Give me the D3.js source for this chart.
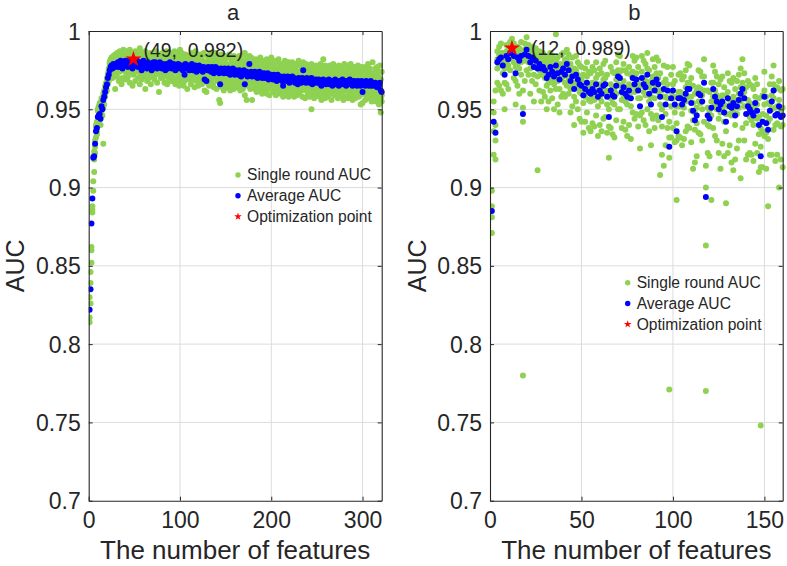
<!DOCTYPE html>
<html><head><meta charset="utf-8">
<script src="https://cdn.jsdelivr.net/npm/d3@7"></script>
<style>body{margin:0;background:#fff}svg{display:block}text{font-family:"Liberation Sans",Arial,Helvetica,sans-serif;fill:#262626}</style>
</head><body>
<script>
// ---------- DATA ----------
const yTicks = [0.7, 0.75, 0.8, 0.85, 0.9, 0.95, 1];
const yTickLabels = ["0.7", "0.75", "0.8", "0.85", "0.9", "0.95", "1"];
const aXTicks = [0, 100, 200, 300];
const bXTicks = [0, 50, 100, 150];
const panelTitles = ["a", "b"];
const xLabel = "The number of features";
const yLabel = "AUC";
const legendLabels = ["Single round AUC", "Average AUC", "Optimization point"];
const aOpt = {x: 49, y: 0.982, label: "(49,  0.982)"};
const bOpt = {x: 12, y: 0.989, label: "(12,  0.989)"};

// Panel a: average AUC per number of features (1..321)
const aAvg = [
.822,.835,.877,.893,.919,.920,.928,.936,.938,.945,
.946,.947,.944,.952,.950,.956,.958,.961,.964,.966,
.970,.972,.975,.977,.978,.976,.979,.978,.977,.979,
.978,.980,.977,.979,.981,.978,.976,.980,.979,.981,
.978,.980,.977,.981,.979,.978,.980,.976,.982,.979,
.980,.978,.981,.977,.979,.980,.978,.975,.979,.981,
.977,.979,.978,.976,.980,.978,.979,.977,.975,.978,
.980,.977,.980,.978,.976,.979,.977,.980,.978,.976,
.979,.977,.978,.975,.979,.977,.976,.978,.980,.977,
.976,.978,.979,.977,.975,.978,.976,.979,.977,.978,
.976,.978,.975,.977,.972,.979,.976,.977,.978,.975,
.977,.976,.979,.975,.977,.976,.978,.974,.977,.976,
.978,.975,.977,.976,.974,.977,.969,.976,.968,.975,
.977,.975,.976,.974,.977,.976,.973,.975,.977,.974,
.976,.975,.973,.966,.976,.974,.975,.973,.976,.974,
.975,.973,.976,.974,.972,.975,.973,.976,.974,.972,
.975,.973,.974,.972,.975,.973,.971,.974,.972,.975,
.966,.973,.974,.971,.973,.979,.972,.974,.971,.973,
.972,.974,.971,.973,.970,.972,.974,.971,.973,.970,
.972,.973,.970,.972,.971,.973,.969,.972,.970,.972,
.971,.969,.972,.970,.971,.968,.972,.970,.969,.971,
.970,.968,.965,.971,.969,.970,.968,.971,.969,.967,
.970,.969,.971,.968,.970,.967,.969,.968,.966,.970,
.968,.969,.967,.970,.975,.968,.969,.967,.970,.968,
.969,.967,.968,.970,.966,.969,.968,.967,.969,.968,
.967,.969,.968,.966,.965,.968,.969,.967,.968,.966,
.968,.967,.969,.966,.968,.967,.965,.968,.967,.969,
.966,.968,.967,.965,.968,.966,.967,.969,.966,.968,
.967,.965,.968,.966,.967,.969,.966,.968,.965,.967,
.968,.966,.967,.965,.968,.966,.967,.965,.968,.961,
.966,.967,.965,.968,.966,.967,.965,.966,.968,.965,
.967,.966,.965,.967,.966,.964,.966,.965,.967,.962,.961];

// Panel a: single-round AUCs (three rounds)
const aRound1 = [
.814,.839,.862,.886,.904,.923,.930,.940,.942,.950,
.952,.954,.949,.957,.955,.928,.962,.963,.967,.969,
.972,.976,.979,.982,.983,.983,.984,.982,.985,.983,
.986,.982,.984,.987,.983,.980,.985,.988,.981,.984,
.983,.987,.979,.985,.988,.981,.984,.979,.986,.983,
.987,.981,.985,.979,.984,.989,.982,.978,.986,.983,
.982,.987,.980,.984,.985,.979,.986,.981,.978,.985,
.983,.986,.981,.987,.980,.984,.978,.985,.982,.979,
.986,.980,.983,.979,.987,.981,.984,.978,.986,.982,
.980,.985,.982,.987,.979,.983,.978,.986,.981,.988,
.979,.986,.980,.983,.978,.985,.981,.976,.984,.979,
.984,.979,.986,.980,.982,.978,.987,.979,.983,.981,
.982,.985,.979,.984,.978,.986,.975,.980,.977,.984,
.980,.983,.986,.978,.982,.985,.979,.983,.986,.980,
.984,.978,.982,.974,.985,.979,.983,.977,.981,.984,
.979,.983,.978,.985,.977,.982,.980,.976,.984,.979,
.983,.977,.981,.979,.984,.976,.982,.978,.980,.985,
.986,.978,.982,.976,.980,.984,.977,.983,.975,.981,
.979,.976,.982,.978,.975,.981,.977,.983,.976,.980,
.976,.981,.978,.975,.982,.977,.980,.974,.979,.983,
.978,.975,.981,.977,.974,.980,.976,.982,.975,.979,
.975,.979,.972,.977,.981,.974,.978,.976,.980,.973,
.977,.974,.980,.976,.973,.979,.975,.978,.972,.981,
.974,.978,.975,.972,.980,.977,.973,.979,.976,.974,
.978,.972,.976,.979,.973,.975,.977,.971,.978,.974,
.972,.977,.974,.979,.971,.976,.982,.973,.978,.975,
.977,.972,.975,.978,.973,.976,.971,.979,.974,.977,
.973,.976,.971,.978,.974,.970,.977,.975,.972,.979,
.975,.971,.978,.973,.976,.972,.979,.974,.970,.977,
.972,.977,.974,.970,.978,.973,.975,.971,.977,.968,
.974,.970,.977,.972,.975,.979,.971,.976,.973,.970,
.980,.973,.970,.976,.972,.977,.971,.974,.978,.969,.974];
const aRound2 = [
.817,.826,.852,.884,.898,.910,.922,.932,.936,.940,
.941,.943,.940,.947,.946,.951,.953,.958,.961,.962,
.966,.968,.970,.972,.975,.970,.972,.971,.963,.974,
.971,.976,.968,.974,.977,.966,.970,.975,.969,.978,
.973,.969,.971,.977,.967,.974,.976,.965,.972,.975,
.968,.974,.977,.970,.975,.966,.972,.969,.976,.971,
.972,.963,.975,.968,.976,.970,.973,.966,.971,.974,
.975,.969,.972,.976,.967,.973,.961,.977,.970,.972,
.970,.974,.967,.971,.975,.966,.972,.969,.976,.968,
.972,.968,.975,.970,.966,.974,.969,.973,.965,.971,
.967,.973,.970,.965,.968,.975,.971,.963,.972,.969,
.971,.966,.974,.969,.972,.964,.973,.968,.970,.965,
.972,.968,.971,.966,.970,.973,.962,.969,.961,.967,
.970,.965,.972,.968,.971,.966,.964,.970,.972,.963,
.968,.971,.956,.954,.970,.964,.969,.962,.971,.966,
.969,.964,.970,.967,.962,.971,.965,.968,.963,.966,
.966,.969,.964,.967,.970,.962,.966,.968,.963,.969,
.959,.967,.956,.965,.968,.972,.963,.969,.956,.966,
.967,.963,.966,.961,.965,.968,.962,.966,.969,.960,
.964,.968,.962,.966,.960,.967,.963,.959,.966,.968,
.966,.961,.964,.967,.959,.963,.968,.962,.965,.960,
.963,.965,.958,.962,.966,.960,.964,.967,.958,.962,
.965,.960,.963,.966,.958,.962,.965,.959,.963,.966,
.960,.964,.962,.958,.968,.963,.957,.962,.965,.959,
.963,.958,.962,.950,.960,.964,.957,.961,.965,.959,
.961,.964,.958,.962,.956,.963,.960,.964,.957,.961,
.963,.958,.962,.960,.964,.956,.961,.963,.959,.965,
.960,.963,.957,.961,.964,.958,.962,.960,.956,.963,
.962,.958,.963,.957,.961,.964,.959,.962,.956,.960,
.963,.957,.961,.959,.964,.958,.962,.953,.960,.954,
.960,.963,.956,.962,.958,.961,.957,.963,.959,.955,
.961,.957,.960,.963,.955,.958,.961,.953,.959,.948,.955];
const aRound3 = [
.830,.846,.860,.888,.920,.918,.926,.938,.934,.949,
.948,.950,.947,.955,.953,.960,.961,.965,.966,.970,
.973,.975,.980,.981,.979,.979,.976,.984,.980,.975,
.981,.977,.980,.985,.978,.975,.983,.977,.986,.979,
.980,.986,.975,.979,.984,.977,.981,.985,.978,.983,
.985,.976,.980,.984,.978,.982,.986,.979,.976,.983,
.979,.982,.976,.985,.978,.981,.975,.984,.979,.977,
.981,.985,.977,.980,.984,.976,.982,.979,.985,.978,
.978,.984,.975,.980,.977,.985,.979,.976,.983,.980,
.980,.975,.983,.979,.977,.982,.984,.976,.981,.978,
.979,.976,.983,.973,.977,.981,.974,.984,.975,.980,
.975,.981,.977,.984,.972,.979,.976,.982,.974,.980,
.976,.983,.974,.979,.981,.975,.970,.980,.972,.977,
.974,.979,.982,.971,.976,.980,.975,.972,.979,.977,
.979,.972,.976,.968,.973,.978,.971,.977,.974,.976,
.972,.977,.974,.970,.976,.973,.978,.971,.975,.969,
.977,.970,.976,.974,.972,.978,.969,.975,.973,.971,
.970,.975,.971,.968,.976,.974,.969,.972,.975,.970,
.975,.970,.973,.968,.974,.971,.969,.976,.970,.972,
.969,.975,.972,.967,.974,.970,.973,.968,.975,.971,
.973,.967,.970,.974,.968,.972,.969,.966,.973,.970,
.967,.972,.969,.966,.973,.968,.971,.965,.972,.969,
.972,.966,.969,.973,.967,.971,.965,.970,.968,.974,
.966,.971,.968,.965,.972,.969,.966,.971,.967,.970,
.967,.970,.965,.968,.971,.966,.969,.964,.972,.967,
.969,.965,.971,.968,.963,.970,.966,.972,.964,.969,
.965,.970,.966,.969,.963,.971,.967,.964,.970,.966,
.969,.964,.971,.967,.965,.970,.963,.968,.971,.965,
.964,.969,.966,.971,.963,.967,.970,.965,.968,.972,
.966,.970,.964,.968,.971,.963,.969,.967,.965,.966,
.969,.964,.970,.966,.963,.971,.967,.962,.969,.968,
.964,.969,.966,.962,.970,.967,.963,.968,.965,.957,.959];

// Panel b: average AUC per number of features (1..160)
const bAvg = [
.885,.942,.935,.980,.982,.983,.978,.972,.984,.982,
.986,.989,.984,.973,.983,.981,.984,.947,.985,.988,
.984,.980,.983,.977,.981,.976,.979,.976,.977,.975,
.970,.972,.977,.974,.971,.978,.973,.969,.974,.976,
.972,.979,.975,.968,.971,.963,.972,.969,.966,.965,
.959,.963,.967,.961,.960,.963,.961,.966,.958,.962,
.960,.965,.966,.958,.945,.962,.959,.958,.965,.971,
.970,.961,.964,.960,.958,.962,.957,.970,.966,.969,
.962,.952,.970,.966,.964,.972,.960,.953,.967,.962,
.969,.966,.958,.945,.963,.953,.962,.926,.957,.962,
.953,.936,.957,.957,.953,.956,.960,.963,.963,.954,
.949,.943,.946,.960,.959,.955,.967,.894,.946,.944,
.951,.963,.958,.955,.950,.953,.955,.948,.942,.957,
.952,.951,.954,.946,.952,.956,.960,.963,.957,.947,
.952,.950,.948,.946,.954,.949,.940,.920,.942,.958,
.941,.937,.949,.955,.962,.946,.947,.952,.945,.946];

// Panel b: single-round AUCs (four rounds)
const bRound1 = [
.898,.955,.962,.987,.990,.992,.986,.985,.991,.990,
.993,.995,.992,.986,.990,.989,.993,.962,.992,.996,
.991,.988,.990,.986,.989,.985,.987,.984,.986,.983,
.980,.983,.986,.984,.982,.998,.983,.979,.985,.986,
.982,.988,.985,.979,.983,.976,.984,.980,.978,.977,
.972,.976,.980,.974,.973,.977,.975,.980,.972,.976,
.973,.979,.981,.972,.960,.977,.974,.973,.980,.985,
.984,.975,.979,.975,.973,.977,.972,.984,.981,.983,
.977,.966,.984,.981,.979,.986,.975,.968,.982,.977,
.983,.981,.973,.962,.978,.969,.977,.942,.972,.977,
.968,.952,.972,.973,.969,.971,.975,.979,.978,.970,
.965,.960,.962,.975,.974,.971,.982,.914,.962,.961,
.967,.978,.974,.971,.966,.969,.971,.964,.959,.973,
.968,.967,.970,.963,.968,.972,.976,.982,.973,.964,
.968,.966,.965,.963,.970,.966,.957,.938,.959,.974,
.958,.954,.966,.971,.978,.963,.964,.968,.962,.963];
const bRound2 = [
.888,.948,.940,.982,.985,.986,.981,.976,.987,.985,
.988,.991,.987,.977,.986,.984,.987,.951,.988,.991,
.987,.983,.986,.980,.984,.979,.982,.979,.980,.978,
.974,.976,.980,.977,.975,.981,.976,.972,.977,.979,
.975,.982,.978,.971,.974,.967,.975,.972,.970,.969,
.963,.967,.971,.965,.964,.967,.965,.970,.962,.966,
.964,.969,.970,.962,.950,.966,.963,.962,.969,.975,
.974,.965,.968,.964,.962,.966,.961,.974,.970,.973,
.966,.957,.974,.970,.968,.976,.964,.958,.971,.966,
.973,.970,.962,.950,.967,.958,.966,.932,.961,.966,
.958,.941,.961,.961,.958,.960,.964,.967,.967,.958,
.954,.948,.951,.964,.963,.959,.971,.900,.951,.949,
.955,.967,.962,.959,.955,.957,.959,.953,.947,.961,
.956,.955,.958,.951,.956,.960,.964,.967,.961,.952,
.956,.954,.953,.951,.958,.953,.945,.926,.947,.962,
.946,.942,.953,.959,.966,.951,.952,.956,.950,.951];
const bRound3 = [
.881,.936,.930,.976,.978,.979,.973,.967,.980,.978,
.983,.986,.980,.968,.978,.976,.980,.942,.981,.985,
.980,.976,.979,.972,.977,.971,.975,.972,.973,.970,
.965,.967,.972,.969,.966,.974,.968,.963,.969,.971,
.967,.975,.970,.963,.966,.958,.967,.964,.961,.960,
.954,.958,.962,.956,.955,.958,.956,.961,.952,.957,
.955,.960,.961,.953,.939,.957,.954,.953,.960,.966,
.965,.956,.959,.955,.953,.957,.952,.965,.961,.964,
.957,.946,.965,.961,.959,.967,.955,.947,.962,.957,
.964,.961,.953,.939,.958,.947,.957,.919,.952,.957,
.948,.930,.952,.952,.947,.951,.955,.958,.958,.949,
.943,.937,.941,.955,.954,.950,.962,.770,.940,.939,
.946,.958,.953,.950,.944,.948,.950,.942,.936,.952,
.947,.946,.949,.940,.947,.951,.955,.958,.952,.941,
.947,.945,.943,.940,.949,.944,.934,.913,.936,.953,
.935,.931,.944,.950,.957,.940,.941,.947,.939,.940];
const bRound4 = [
.871,.921,.918,.967,.965,.962,.960,.950,.966,.963,
.975,.983,.970,.953,.965,.960,.972,.780,.968,.975,
.972,.960,.968,.955,.966,.911,.962,.955,.961,.958,
.950,.955,.962,.957,.950,.963,.953,.948,.958,.960,
.958,.965,.960,.948,.952,.940,.955,.950,.944,.942,
.935,.942,.948,.938,.936,.941,.939,.946,.933,.940,
.936,.944,.945,.935,.919,.938,.934,.932,.943,.950,
.950,.938,.942,.937,.933,.940,.931,.948,.944,.947,
.939,.925,.948,.943,.940,.950,.936,.927,.944,.938,
.946,.943,.908,.921,.914,.927,.938,.771,.932,.938,
.929,.892,.933,.932,.927,.931,.936,.939,.938,.929,
.912,.916,.920,.935,.934,.930,.942,.863,.922,.920,
.892,.938,.933,.930,.922,.912,.928,.920,.890,.922,
.927,.916,.911,.918,.925,.930,.906,.938,.930,.918,
.921,.922,.921,.917,.928,.922,.910,.748,.913,.933,
.912,.888,.921,.921,.937,.917,.921,.900,.918,.913];

// ---------- STYLE / LAYOUT ----------
const GREEN = "#8fd150", BLUE = "#0000ff", RED = "#ff0000";
const AXIS = "#262626", GRID = "#dcdcdc";
const W = 787, H = 566;
const panels = [
  {title: panelTitles[0], left: 88.7, right: 381.7, xMax: 321, xTicks: aXTicks,
   avg: aAvg, rounds: [aRound1, aRound2, aRound3], opt: aOpt,
   legX: 238, legY: 175, labelDx: 10, labelDy: -9},
  {title: panelTitles[1], left: 490, right: 782.7, xMax: 160, xTicks: bXTicks,
   avg: bAvg, rounds: [bRound1, bRound2, bRound3, bRound4], opt: bOpt,
   legX: 627.7, legY: 282.7, labelDx: 19, labelDy: 0}
];
const plotTop = 31, plotBottom = 500.7;

const svg = d3.select("body").append("svg").attr("width", W).attr("height", H);

panels.forEach(p => {
  const x = d3.scaleLinear().domain([0, p.xMax]).range([p.left, p.right]);
  const y = d3.scaleLinear().domain([0.7, 1]).range([plotBottom, plotTop]);
  const g = svg.append("g");

  // grid
  g.append("g").selectAll("line").data(p.xTicks.filter(t => t > 0)).join("line")
    .attr("x1", d => x(d)).attr("x2", d => x(d)).attr("y1", plotTop).attr("y2", plotBottom)
    .attr("stroke", GRID).attr("stroke-width", 1);
  g.append("g").selectAll("line").data(yTicks.filter(t => t > 0.7 && t < 1)).join("line")
    .attr("x1", p.left).attr("x2", p.right).attr("y1", d => y(d)).attr("y2", d => y(d))
    .attr("stroke", GRID).attr("stroke-width", 1);

  // clip
  const clipId = "clip" + p.title;
  svg.append("clipPath").attr("id", clipId).append("rect")
    .attr("x", p.left).attr("y", plotTop - 4).attr("width", p.right - p.left + 4).attr("height", plotBottom - plotTop + 4);

  const pts = g.append("g").attr("clip-path", `url(#${clipId})`);
  p.rounds.forEach(r => {
    pts.append("g").selectAll("circle").data(r).join("circle")
      .attr("cx", (d, i) => x(i + 1)).attr("cy", d => y(d)).attr("r", 3).attr("fill", GREEN);
  });
  pts.append("g").selectAll("circle").data(p.avg).join("circle")
    .attr("cx", (d, i) => x(i + 1)).attr("cy", d => y(d)).attr("r", 3).attr("fill", BLUE);

  // axes (box with inward ticks)
  const axB = d3.axisBottom(x).tickValues(p.xTicks).tickSizeInner(-4).tickSizeOuter(0).tickFormat(d => d);
  const axT = d3.axisTop(x).tickValues(p.xTicks).tickSizeInner(-4).tickSizeOuter(0).tickFormat("");
  const axL = d3.axisLeft(y).tickValues(yTicks).tickSizeInner(-4).tickSizeOuter(0).tickFormat((d, i) => yTickLabels[i]);
  const axR = d3.axisRight(y).tickValues(yTicks).tickSizeInner(-4).tickSizeOuter(0).tickFormat("");
  const gB = g.append("g").attr("transform", `translate(0,${plotBottom})`).call(axB);
  const gT = g.append("g").attr("transform", `translate(0,${plotTop})`).call(axT);
  const gL = g.append("g").attr("transform", `translate(${p.left},0)`).call(axL);
  const gR = g.append("g").attr("transform", `translate(${p.right},0)`).call(axR);
  [gB, gT, gL, gR].forEach(a => {
    a.select(".domain").attr("stroke", AXIS).attr("stroke-width", 1.1);
    a.selectAll(".tick line").attr("stroke", AXIS);
    a.selectAll(".tick text").attr("fill", AXIS).style("font-size", "23px")
      .style("font-family", '"Liberation Sans",Arial,sans-serif');
  });
  gB.selectAll(".tick text").attr("y", 11).attr("dy", "0.71em");
  gL.selectAll(".tick text").attr("x", -8).attr("dy", "0.35em");

  // star
  g.append("path").attr("d", d3.symbol(d3.symbolStar, 80)())
    .attr("transform", `translate(${x(p.opt.x)},${y(p.opt.y)})`).attr("fill", RED);
  g.append("text").attr("x", x(p.opt.x) + p.labelDx).attr("y", y(p.opt.y) + p.labelDy + 7)
    .style("font-size", "19.5px").style("white-space", "pre").attr("xml:space", "preserve")
    .text(p.opt.label);

  // titles and labels
  const cx = (p.left + p.right) / 2;
  g.append("text").attr("x", cx - 2).attr("y", 20).attr("text-anchor", "middle")
    .style("font-size", "22px").text(p.title);
  g.append("text").attr("x", cx).attr("y", 559).attr("text-anchor", "middle")
    .style("font-size", "26px").text(xLabel);
  g.append("text").attr("transform", `translate(${p.left - 73},${(plotTop + plotBottom) / 2}) rotate(-90)`)
    .attr("text-anchor", "middle").attr("dy", "0.35em").style("font-size", "25px").text(yLabel);

  // legend
  const leg = g.append("g").attr("transform", `translate(${p.legX},${p.legY})`);
  const rowH = 20.8;
  leg.append("circle").attr("cx", 0).attr("cy", 0).attr("r", 2.7).attr("fill", GREEN);
  leg.append("circle").attr("cx", 0).attr("cy", rowH).attr("r", 2.7).attr("fill", BLUE);
  leg.append("path").attr("d", d3.symbol(d3.symbolStar, 18)()).attr("transform", `translate(0,${rowH * 2})`).attr("fill", RED);
  legendLabels.forEach((t, i) => {
    leg.append("text").attr("x", 9).attr("y", i * rowH).attr("dy", "0.35em")
      .style("font-size", "15.6px").text(t);
  });
});
</script>
</body></html>
